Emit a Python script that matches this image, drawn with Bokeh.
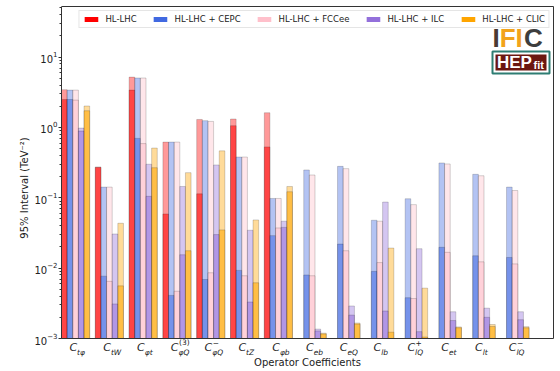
import numpy as np
from bokeh.plotting import figure
from bokeh.models import Range1d, Legend, LegendItem, ColumnDataSource
from bokeh.core.properties import value
from bokeh.embed import file_html
from bokeh.resources import INLINE

# ---------------- data ----------------
coeff_sub = ["tφ", "tW", "φt", "φQ", "φQ", "tZ", "φb", "eb", "eQ", "lb", "lQ", "et", "lt", "lQ"]
coeff_sup = ["", "", "", "(3)", "−", "", "", "", "", "", "+", "", "", "−"]

series_names = ["HL-LHC", "HL-LHC + CEPC", "HL-LHC + FCCee", "HL-LHC + ILC", "HL-LHC + CLIC"]
series_colors = ["#ff0000", "#4169e1", "#ffc0cb", "#9370db", "#ffa500"]

nan = np.nan
# light (taller) bars
hllhc_hi = [3.45, 0.275, 5.2, 0.62, 1.30, 1.32, 1.62, nan, nan, nan, nan, nan, nan, nan]
cepc_hi = [3.4, 0.142, 5.05, 0.62, 1.25, 0.38, 0.098, 0.249, 0.28, 0.048, 0.097, 0.313, 0.216, 0.142]
fccee_hi = [3.4, 0.142, 5.05, 0.62, 1.22, 0.38, 0.098, 0.211, 0.26, 0.0465, 0.080, 0.303, 0.206, 0.127]
ilc_hi = [0.98, 0.0306, 0.30, 0.145, 0.293, 0.0346, 0.0465, 0.00136, 0.0029, 0.087, 0.0189, 0.0024, 0.0027, 0.0024]
clic_hi = [2.02, 0.0435, 0.51, 0.228, 0.465, 0.0485, 0.145, 0.00119, 0.00166, 0.0193, 0.0052, 0.00146, 0.00158, 0.00147]
# dark (shorter) bars
hllhc_lo = [2.5, 0.27, 3.4, 0.059, 0.114, 1.06, 0.53, nan, nan, nan, nan, nan, nan, nan]
cepc_lo = [2.5, 0.0077, 0.70, 0.0041, 0.0069, 0.0093, 0.029, 0.0080, 0.022, 0.009, 0.0038, 0.0198, 0.015, 0.0142]
fccee_lo = [2.45, 0.0065, 0.59, 0.0047, 0.0086, 0.0078, 0.0373, 0.0078, 0.0177, 0.012, 0.0037, 0.0168, 0.0123, 0.0115]
ilc_lo = [0.89, 0.0031, 0.105, 0.0155, 0.030, 0.0033, 0.038, 0.00128, 0.00215, 0.00246, 0.00125, 0.0018, 0.0020, 0.00185]
clic_lo = [1.73, 0.0056, 0.268, 0.0177, 0.035, 0.0062, 0.122, 0.00116, 0.0016, 0.00123, 0.00105, 0.00142, 0.00148, 0.00142]

hi_values = [hllhc_hi, cepc_hi, fccee_hi, ilc_hi, clic_hi]
lo_values = [hllhc_lo, cepc_lo, fccee_lo, ilc_lo, clic_lo]

# ---------------- geometry (page pixels) ----------------
W, H = 560, 371
BOX_L, BOX_R, BOX_T, BOX_B = 61, 553, 6, 338     # axes box
FRAME_R, FRAME_T = 555, 4                          # frame a bit larger than the box
BAR_W = 1.0 / 6.0
PX_PER_GROUP = 33.8
X0 = -2.5 * BAR_W
LOGMIN, LOGMAX = -3.0, 1.72
BASE_FIX = 0.33   # empirical baseline correction of rendered text (fraction of font size)

def px_x(px):
    return X0 + (px - BOX_L) / PX_PER_GROUP

def px_y(py):
    return 10 ** (LOGMAX - (py - BOX_T) / (BOX_B - BOX_T) * (LOGMAX - LOGMIN))

def base_y(py, size):
    return px_y(py - BASE_FIX * size)

X1 = px_x(BOX_R)
YMIN, YMAX = 10 ** LOGMIN, 10 ** LOGMAX

FONT = "DejaVu Sans"
TXT = "#222222"

p = figure(width=W, height=H, y_axis_type="log",
           x_range=Range1d(X0, px_x(FRAME_R)), y_range=Range1d(px_y(H), px_y(FRAME_T)),
           output_backend="svg", toolbar_location=None,
           min_border_left=BOX_L, min_border_right=W - FRAME_R,
           min_border_top=FRAME_T, min_border_bottom=0)

p.xgrid.visible = False
p.ygrid.visible = False
p.xaxis.visible = False
p.outline_line_color = None
p.background_fill_color = "white"
p.border_fill_color = "white"

SPINE = "#333333"
yax = p.yaxis[0]
yax.bounds = (YMIN, YMAX)
yax.axis_label = "95% Interval (TeV⁻²)"
yax.axis_label_text_font = FONT
yax.axis_label_text_font_size = "10px"
yax.axis_label_text_font_style = "normal"
yax.axis_label_text_color = TXT
yax.axis_label_standoff = 1
yax.major_label_text_font = FONT
yax.major_label_text_font_size = "10px"
yax.major_label_text_color = TXT
yax.major_label_standoff = 1
yax.axis_line_color = SPINE
yax.axis_line_width = 1
yax.major_tick_line_color = SPINE
yax.minor_tick_line_color = SPINE
yax.major_tick_out = 3
yax.major_tick_in = 0
yax.minor_tick_out = 2
yax.minor_tick_in = 0

groups = np.arange(len(coeff_sub))
bottoms = np.full(len(groups), YMIN)

legend_items = []
for k in range(5):
    xs = groups + (k - 2) * BAR_W
    col = series_colors[k]
    p.vbar(x=xs, top=np.array(hi_values[k], dtype=float), bottom=bottoms, width=BAR_W,
           fill_color=col, fill_alpha=0.4, line_color="black", line_alpha=0.25, line_width=0.7)
    p.vbar(x=xs, top=np.array(lo_values[k], dtype=float), bottom=bottoms, width=BAR_W,
           fill_color=col, fill_alpha=0.55, line_color="black", line_alpha=0.25, line_width=0.7)
    dummy = p.vbar(x=[0.0], top=[nan], bottom=[nan], width=BAR_W,
                   fill_color=col, fill_alpha=1.0, line_color=None)
    legend_items.append(LegendItem(label=series_names[k], renderers=[dummy]))

# box spines (top, right, bottom); the left spine is the y axis line
p.segment(x0=[X0, X1, X0], y0=[YMAX, YMIN, YMIN], x1=[X1, X1, X1], y1=[YMAX, YMAX, YMIN],
          line_color=SPINE, line_width=1)

legend = Legend(items=legend_items, orientation="horizontal", location="top_right",
                label_text_font=FONT, label_text_font_size="8.5px", label_text_color=TXT,
                glyph_width=17, glyph_height=6, label_height=9, label_standoff=6, spacing=15,
                padding=3, margin=6, border_line_color="#cccccc", border_line_width=1,
                background_fill_color="white", background_fill_alpha=0.85)
p.add_layout(legend)

# x tick labels C_{sub}^{sup} as text glyphs below the box
n = len(groups)
src_c = ColumnDataSource(dict(x=groups, y=np.full(n, base_y(351, 11)), t=["C"] * n))
p.text(x="x", y="y", text="t", source=src_c, text_font=value(FONT), text_font_size=value("11px"),
       text_font_style="italic", text_align="right", text_baseline="alphabetic",
       x_offset=1.5, text_color=TXT)
src_sub = ColumnDataSource(dict(x=groups, y=np.full(n, base_y(354.5, 7.5)), t=coeff_sub))
p.text(x="x", y="y", text="t", source=src_sub, text_font=value(FONT), text_font_size=value("7.5px"),
       text_font_style="italic", text_align="left", text_baseline="alphabetic",
       x_offset=1.5, text_color=TXT)
sup_idx = [i for i in groups if coeff_sup[i]]
src_sup = ColumnDataSource(dict(x=[groups[i] for i in sup_idx], y=[base_y(344.5, 7.5)] * len(sup_idx),
                                t=[coeff_sup[i] for i in sup_idx]))
p.text(x="x", y="y", text="t", source=src_sup, text_font=value(FONT), text_font_size=value("7.5px"),
       text_align="left", text_baseline="alphabetic", x_offset=2.0, text_color=TXT)

# x axis title
p.text(x=[px_x((BOX_L + BOX_R) / 2)], y=[base_y(365, 10)], text=["Operator Coefficients"],
       text_font=value(FONT), text_font_size=value("10px"), text_align="center",
       text_baseline="alphabetic", text_color=TXT)

# ---------------- logos (IFIC / HEPfit) ----------------
LOGO = "Liberation Sans"

def logo_text(text, px, py, size, color):
    p.text(x=[px_x(px)], y=[base_y(py, size)], text=[text], text_font=value(LOGO),
           text_font_size=value(f"{size}px"), text_font_style="bold", text_align="left",
           text_baseline="alphabetic", text_color=color)

logo_text("I", 492, 46, 26, "#4a3a33")
logo_text("FI", 499.2, 46, 26, "#f2a31b")
logo_text("C", 523.5, 46, 26, "#3d3d3d")
p.quad(left=[px_x(492)], right=[px_x(549)], top=[px_y(51)], bottom=[px_y(73)],
       fill_color="white", line_color="#2e7d73", line_width=2)
p.quad(left=[px_x(495)], right=[px_x(546)], top=[px_y(54)], bottom=[px_y(70)],
       fill_color="#6b1710", line_color=None)
logo_text("HEP", 496.5, 67.5, 17, "white")
logo_text("fit", 533, 68, 11, "white")

open("out.html", "w").write(file_html(p, INLINE))
